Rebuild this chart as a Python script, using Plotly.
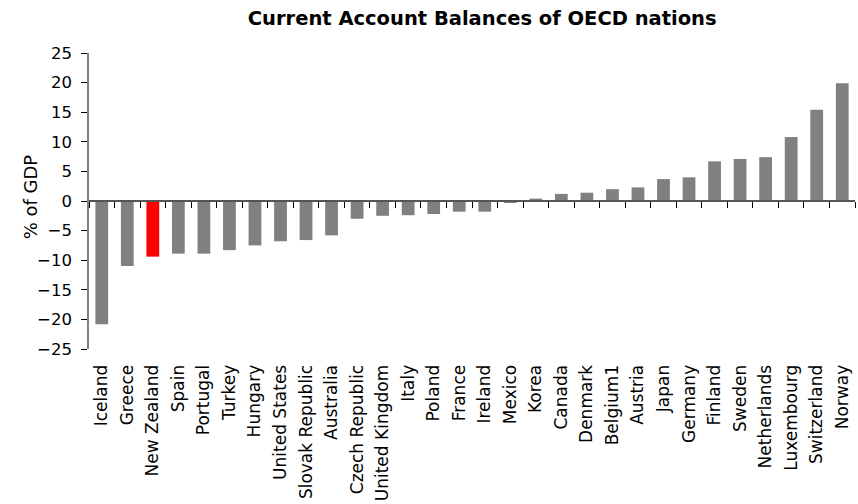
import plotly.graph_objects as go

countries = [
    "Iceland", "Greece", "New Zealand", "Spain", "Portugal", "Turkey", "Hungary",
    "United States", "Slovak Republic", "Australia", "Czech Republic",
    "United Kingdom", "Italy", "Poland", "France", "Ireland", "Mexico", "Korea",
    "Canada", "Denmark", "Belgium1", "Austria", "Japan", "Germany", "Finland",
    "Sweden", "Netherlands", "Luxembourg", "Switzerland", "Norway",
]
balance_pct_gdp = [
    -20.8, -11.0, -9.4, -8.9, -8.9, -8.3, -7.5,
    -6.8, -6.6, -5.8, -3.0,
    -2.5, -2.4, -2.2, -1.8, -1.8, -0.3, 0.4,
    1.2, 1.4, 2.0, 2.3, 3.7, 4.0, 6.7,
    7.1, 7.4, 10.8, 15.4, 19.9,
]
highlight = "New Zealand"
y_ticks = list(range(-25, 30, 5))

bar_colors = ["#FF0000" if c == highlight else "#808080" for c in countries]
FONT = "DejaVu Sans"

fig = go.Figure()
fig.add_trace(go.Bar(
    x=countries, y=balance_pct_gdp,
    marker=dict(color=bar_colors, line=dict(width=0)),
    showlegend=False,
))
# invisible companion trace so the zero-line axis shares categories
fig.add_trace(go.Bar(
    x=countries, y=[0] * len(countries), xaxis="x2",
    marker=dict(color="rgba(0,0,0,0)"), showlegend=False, hoverinfo="skip",
))

fig.update_layout(
    width=858, height=504,
    margin=dict(l=89, r=3, t=53, b=155),
    paper_bgcolor="white", plot_bgcolor="white",
    bargap=0.5,
    title=dict(
        text="<b>Current Account Balances of OECD nations</b>",
        x=0.562, xanchor="center", y=0.964, yanchor="middle",
        font=dict(family=FONT, size=19.5, color="black"),
    ),
    font=dict(family=FONT, size=16, color="black"),
    xaxis=dict(
        type="category", categoryorder="array", categoryarray=countries,
        showline=False, showgrid=False, zeroline=False,
        ticks="outside", ticklen=8, tickcolor="rgba(0,0,0,0)",
        tickangle=-90, tickfont=dict(size=17),
    ),
    xaxis2=dict(
        type="category", categoryorder="array", categoryarray=countries,
        overlaying="x", matches="x", anchor="free", position=0.5,
        side="bottom", showline=True, linecolor="#555555", linewidth=1.5,
        ticks="outside", tickson="boundaries", ticklen=6, tickcolor="black",
        showticklabels=False, showgrid=False, zeroline=False,
    ),
    yaxis=dict(
        range=[-25, 25], tickvals=y_ticks,
        showline=True, linecolor="#808080", linewidth=1.5,
        ticks="outside", ticklen=6, tickcolor="black",
        ticklabelstandoff=6,
        showgrid=False, zeroline=False,
        tickfont=dict(size=16.5),
    ),
    annotations=[dict(
        text="% of GDP", textangle=-90, showarrow=False,
        xref="paper", yref="paper", x=-0.076, y=0.515,
        xanchor="center", yanchor="middle",
        font=dict(family=FONT, size=18, color="black"),
    )],
)

fig.write_html("out.html")
